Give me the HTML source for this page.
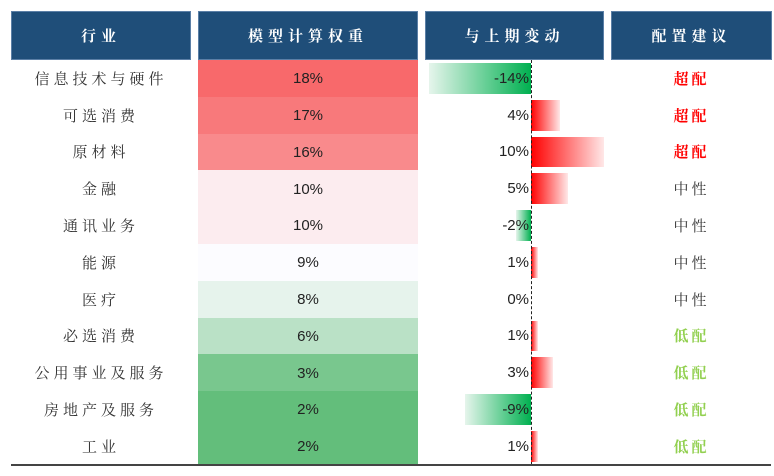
<!DOCTYPE html>
<html><head><meta charset="utf-8">
<style>
body{margin:0;background:#fff;width:774px;height:476px;overflow:hidden;position:relative;font-family:"Liberation Sans","Noto Serif CJK SC",sans-serif}
.h{position:absolute;top:11px;height:49px;background:#1f4e79;color:#fff;font-family:"Noto Serif CJK SC",serif;font-weight:bold;font-size:15px;letter-spacing:5px;display:flex;align-items:center;justify-content:center;box-sizing:border-box;border:1px solid #5b7fa6}
.c{position:absolute;display:flex;align-items:center;justify-content:center;font-size:15px;color:#222}
.name{font-family:"Noto Serif CJK SC",serif;letter-spacing:4px;color:#333}
.rec{font-family:"Noto Serif CJK SC",serif;font-weight:bold;letter-spacing:3px}
</style></head><body>
<div class="h" style="left:11px;width:180px">行业</div>
<div class="h" style="left:198px;width:220px">模型计算权重</div>
<div class="h" style="left:425px;width:179px">与上期变动</div>
<div class="h" style="left:611px;width:161px">配置建议</div>
<div id="rows"></div>
<div style="position:absolute;left:531px;top:60px;height:405px;border-left:1.5px dashed #222"></div>
<div style="position:absolute;left:11px;top:464px;width:760px;height:2px;background:#444"></div>
<script>
const industries=["信息技术与硬件","可选消费","原材料","金融","通讯业务","能源","医疗","必选消费","公用事业及服务","房地产及服务","工业"];
const weights=[18,17,16,10,10,9,8,6,3,2,2];
const changes=[-14,4,10,5,-2,1,0,1,3,-9,1];
const recs=["超配","超配","超配","中性","中性","中性","中性","低配","低配","低配","低配"];
const top0=60,rowH=36.8,zeroX=531,pxPer=7.3;
const wMin=2,wMid=9,wMax=18;
function lerp(a,b,t){return a.map((v,i)=>Math.round(v+(b[i]-v)*t));}
function wColor(w){const W=[252,252,255],R=[248,105,107],G=[99,190,123];
 const c=w>=wMid?lerp(W,R,(w-wMid)/(wMax-wMid)):lerp(W,G,(wMid-w)/(wMid-wMin));return `rgb(${c})`;}
function xScale(v){return zeroX+v*pxPer;}
const root=document.getElementById('rows');
industries.forEach((n,i)=>{
 const y=top0+i*rowH;
 const a=document.createElement('div');a.className='c name';
 
 
 a.style.cssText=`left:11px;width:180px;top:${y}px;height:${rowH}px`;a.textContent=n;root.appendChild(a);
 const b=document.createElement('div');b.className='c';
 
 
 b.style.cssText=`left:198px;width:220px;top:${y}px;height:${rowH+0.5}px;background:${wColor(weights[i])}`;b.textContent=weights[i]+'%';root.appendChild(b);
 const v=changes[i];
 if(v!==0){const bar=document.createElement('div');
  
  
  const x1=xScale(v),l=Math.min(x1,zeroX),w=Math.abs(x1-zeroX);
  const bg=v<0?'linear-gradient(to right,#e6f5ec,#00b050)':'linear-gradient(to right,#ff0000,#ffe8e8)';
  bar.style.cssText=`position:absolute;left:${l}px;width:${w}px;top:${y+3}px;height:${rowH-6}px;background:${bg}`;root.appendChild(bar);}
 const t=document.createElement('div');t.className='c';
 
 
 t.style.cssText=`left:440px;width:89px;justify-content:flex-end;top:${y}px;height:${rowH}px;z-index:2`;t.textContent=v+'%';root.appendChild(t);
 const r=document.createElement('div');r.className='c rec';
 
 
 const col=recs[i]==='超配'?'#ff0000':recs[i]==='低配'?'#92d050':'#333';
 r.style.cssText=`left:611px;width:161px;top:${y}px;height:${rowH}px;color:${col};${recs[i]==='中性'?'font-weight:normal':''}`;r.textContent=recs[i];root.appendChild(r);
});
</script>
</body></html>
